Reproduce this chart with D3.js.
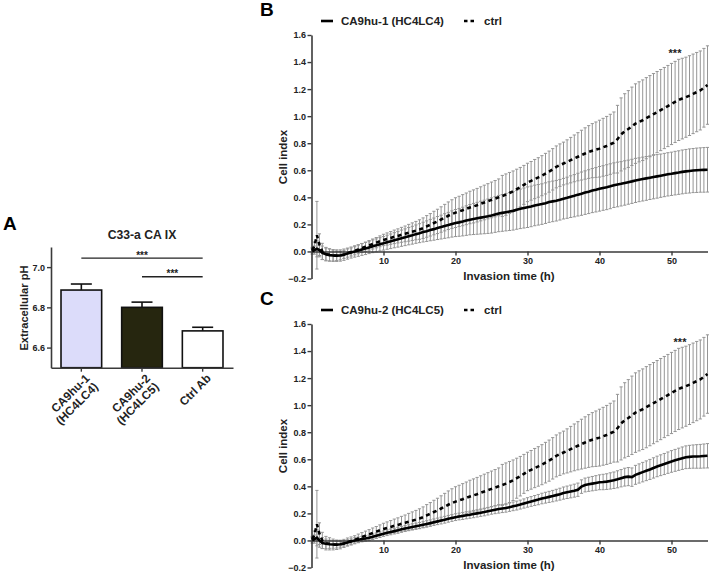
<!DOCTYPE html>
<html><head><meta charset="utf-8">
<script src="https://cdn.jsdelivr.net/npm/d3@7"></script>
<style>
html,body{margin:0;padding:0;background:#fff;}
svg{display:block;font-family:"Liberation Sans",Arial,sans-serif;font-weight:bold;}
</style></head>
<body><svg id="chart" width="709" height="576"></svg>
<script>
// ---------- Panel A data ----------
const barCategories = ["CA9hu-1 (HC4LC4)", "CA9hu-2 (HC4LC5)", "Ctrl Ab"];
const barLabelLines = [["CA9hu-1", "(HC4LC4)"], ["CA9hu-2", "(HC4LC5)"], ["Ctrl Ab"]];
const barValues = [6.886, 6.800, 6.683];
const barErrors = [0.030, 0.026, 0.018];
const barTicks = [6.6, 6.8, 7.0];
const sigPairs = [[0, 2, 7.045], [1, 2, 6.952]];
const sigLabel = "***";

// ---------- Panels B / C data ----------
const timeH = [0.1, 0.4, 0.75, 1.1, 1.5,
 2, 2.5, 3, 3.5, 4, 4.5, 5, 5.5, 6, 6.5, 7, 7.5, 8, 8.5, 9, 9.5, 10, 10.5, 11, 11.5, 12, 12.5, 13, 13.5, 14, 14.5,
 15, 15.5, 16, 16.5, 17, 17.5, 18, 18.5, 19, 19.5, 20, 20.5, 21, 21.5, 22, 22.5, 23, 23.5, 24, 24.5, 25, 25.5, 26, 26.5,
 27, 27.5, 28, 28.5, 29, 29.5, 30, 30.5, 31, 31.5, 32, 32.5, 33, 33.5, 34, 34.5, 35, 35.5, 36, 36.5, 37, 37.5, 38, 38.5,
 39, 39.5, 40, 40.5, 41, 41.5, 42, 42.5, 43, 43.5, 44, 44.5, 45, 45.5, 46, 46.5, 47, 47.5, 48, 48.5, 49, 49.5, 50, 50.5,
 51, 51.5, 52, 52.5, 53, 53.5, 54, 54.5, 55];

const ctrlMean = [0.01, 0.04, 0.12, 0.05, 0.0,
 -0.02, -0.025, -0.03, -0.032, -0.03, -0.022, -0.012, -0.004, 0.005, 0.015, 0.025, 0.035, 0.045, 0.055, 0.065, 0.075, 0.085, 0.092, 0.1, 0.108, 0.115, 0.123, 0.13, 0.138, 0.146, 0.154,
 0.162, 0.172, 0.185, 0.197, 0.21, 0.222, 0.236, 0.25, 0.264, 0.276, 0.287, 0.296, 0.305, 0.315, 0.325, 0.333, 0.342, 0.352, 0.362, 0.371, 0.381, 0.39, 0.40, 0.41,
 0.42, 0.432, 0.445, 0.46, 0.475, 0.492, 0.51, 0.522, 0.535, 0.547, 0.56, 0.575, 0.59, 0.607, 0.625, 0.638, 0.65, 0.662, 0.675, 0.688, 0.70, 0.712, 0.724, 0.735,
 0.745, 0.752, 0.76, 0.77, 0.78, 0.792, 0.805, 0.83, 0.865, 0.888, 0.905, 0.925, 0.945, 0.958, 0.97, 0.985, 1.0, 1.015, 1.03, 1.045, 1.06, 1.075, 1.09, 1.105,
 1.12, 1.13, 1.14, 1.152, 1.165, 1.178, 1.19, 1.21, 1.23];

const ctrlSD = [0.02, 0.03, 0.25, 0.08, 0.06,
 0.05, 0.045, 0.04, 0.035, 0.032, 0.03, 0.03, 0.03, 0.03, 0.032, 0.033, 0.034, 0.035, 0.037, 0.038, 0.04, 0.042, 0.045, 0.047, 0.05, 0.052, 0.055, 0.058, 0.062, 0.065, 0.068,
 0.072, 0.076, 0.08, 0.083, 0.087, 0.09, 0.094, 0.098, 0.102, 0.106, 0.11, 0.112, 0.115, 0.117, 0.12, 0.122, 0.124, 0.126, 0.128, 0.13, 0.132, 0.134, 0.136, 0.152,
 0.153, 0.152, 0.15, 0.148, 0.146, 0.144, 0.142, 0.143, 0.145, 0.146, 0.148, 0.15, 0.152, 0.153, 0.155, 0.157, 0.158, 0.163, 0.168, 0.173, 0.178, 0.184, 0.19, 0.195,
 0.2, 0.205, 0.21, 0.214, 0.218, 0.222, 0.226, 0.25, 0.27, 0.278, 0.284, 0.29, 0.294, 0.296, 0.298, 0.3, 0.3, 0.3, 0.3, 0.3, 0.3, 0.3, 0.3, 0.3,
 0.3, 0.298, 0.296, 0.295, 0.294, 0.293, 0.292, 0.291, 0.29];

const hu1Mean = [0.0, 0.01, 0.02, 0.01, -0.01,
 -0.02, -0.027, -0.03, -0.031, -0.03, -0.024, -0.016, -0.008, 0.0, 0.007, 0.015, 0.022, 0.03, 0.038, 0.045, 0.053, 0.06, 0.068, 0.075, 0.083, 0.09, 0.098, 0.105, 0.113, 0.12, 0.128,
 0.135, 0.143, 0.15, 0.158, 0.165, 0.173, 0.18, 0.188, 0.195, 0.203, 0.21, 0.215, 0.221, 0.228, 0.235, 0.24, 0.245, 0.25, 0.255, 0.26, 0.266, 0.273, 0.28, 0.285,
 0.29, 0.295, 0.30, 0.308, 0.315, 0.321, 0.327, 0.333, 0.34, 0.345, 0.35, 0.357, 0.365, 0.37, 0.375, 0.382, 0.39, 0.397, 0.405, 0.412, 0.42, 0.427, 0.435, 0.442,
 0.45, 0.456, 0.463, 0.469, 0.475, 0.482, 0.49, 0.495, 0.50, 0.506, 0.512, 0.518, 0.525, 0.53, 0.535, 0.54, 0.545, 0.55, 0.555, 0.56, 0.565, 0.57, 0.574, 0.579,
 0.583, 0.588, 0.592, 0.595, 0.598, 0.6, 0.602, 0.603, 0.604];

const hu1SD = [0.02, 0.03, 0.06, 0.05, 0.05,
 0.045, 0.045, 0.044, 0.043, 0.042, 0.042, 0.041, 0.041, 0.042, 0.043, 0.044, 0.045, 0.046, 0.047, 0.048, 0.049, 0.05, 0.052, 0.054, 0.056, 0.058, 0.06, 0.062, 0.064, 0.066, 0.068,
 0.07, 0.073, 0.076, 0.079, 0.082, 0.085, 0.088, 0.091, 0.094, 0.097, 0.1, 0.103, 0.106, 0.109, 0.112, 0.115, 0.118, 0.121, 0.124, 0.127, 0.13, 0.132, 0.134, 0.136,
 0.138, 0.14, 0.142, 0.144, 0.146, 0.148, 0.15, 0.15, 0.15, 0.15, 0.15, 0.15, 0.15, 0.15, 0.15, 0.15, 0.15, 0.152, 0.154, 0.156, 0.158, 0.16, 0.161, 0.162,
 0.163, 0.164, 0.165, 0.165, 0.166, 0.166, 0.165, 0.165, 0.164, 0.164, 0.163, 0.163, 0.163, 0.162, 0.162, 0.162, 0.161, 0.161, 0.161, 0.16, 0.16, 0.16, 0.16, 0.161,
 0.161, 0.162, 0.162, 0.163, 0.163, 0.164, 0.164, 0.165, 0.165];

const hu2Mean = [0.0, 0.01, 0.02, 0.0, -0.02,
 -0.025, -0.028, -0.03, -0.031, -0.028, -0.022, -0.015, -0.008, 0.0, 0.005, 0.01, 0.015, 0.02, 0.027, 0.035, 0.042, 0.05, 0.057, 0.063, 0.069, 0.075, 0.082, 0.088, 0.094, 0.1, 0.105,
 0.11, 0.116, 0.122, 0.128, 0.135, 0.141, 0.147, 0.153, 0.16, 0.166, 0.172, 0.177, 0.181, 0.186, 0.19, 0.195, 0.2, 0.205, 0.21, 0.216, 0.222, 0.227, 0.232, 0.236,
 0.24, 0.246, 0.252, 0.258, 0.265, 0.273, 0.281, 0.288, 0.295, 0.302, 0.31, 0.316, 0.322, 0.328, 0.335, 0.342, 0.35, 0.356, 0.362, 0.368, 0.375, 0.398, 0.41, 0.415,
 0.42, 0.425, 0.43, 0.432, 0.435, 0.44, 0.445, 0.452, 0.46, 0.468, 0.472, 0.468, 0.485, 0.495, 0.505, 0.515, 0.525, 0.536, 0.547, 0.556, 0.565, 0.575, 0.584, 0.592,
 0.6, 0.608, 0.615, 0.618, 0.62, 0.621, 0.622, 0.624, 0.626];

const hu2SD = [0.02, 0.03, 0.06, 0.05, 0.04,
 0.035, 0.03, 0.028, 0.025, 0.022, 0.02, 0.02, 0.02, 0.02, 0.02, 0.02, 0.02, 0.02, 0.02, 0.02, 0.02, 0.02, 0.021, 0.021, 0.021, 0.022, 0.022, 0.022, 0.022, 0.023, 0.023,
 0.023, 0.023, 0.024, 0.024, 0.024, 0.024, 0.025, 0.025, 0.025, 0.025, 0.025, 0.025, 0.026, 0.026, 0.026, 0.027, 0.027, 0.027, 0.028, 0.028, 0.028, 0.029, 0.03, 0.03,
 0.031, 0.031, 0.032, 0.033, 0.033, 0.034, 0.035, 0.036, 0.037, 0.038, 0.039, 0.04, 0.041, 0.042, 0.043, 0.044, 0.045, 0.046, 0.047, 0.048, 0.049, 0.05, 0.051, 0.052,
 0.053, 0.054, 0.055, 0.057, 0.058, 0.06, 0.061, 0.063, 0.064, 0.066, 0.067, 0.068, 0.07, 0.071, 0.072, 0.073, 0.074, 0.075, 0.076, 0.077, 0.078, 0.079, 0.08, 0.081,
 0.082, 0.083, 0.084, 0.085, 0.086, 0.087, 0.088, 0.089, 0.09];

const yTicksLine = [-0.2, 0.0, 0.2, 0.4, 0.6, 0.8, 1.0, 1.2, 1.4, 1.6];
const xTicksLine = [10, 20, 30, 40, 50];

// ---------- drawing ----------
const svg = d3.select("#chart");
const AX = "#3a3a3a";
const TXT = "#222";
const ERR = "#959595";

function styleAxis(g) {
  g.selectAll("path.domain").attr("stroke", AX).attr("stroke-width", 1.6);
  g.selectAll(".tick line").attr("stroke", AX).attr("stroke-width", 1.4);
  g.selectAll(".tick text").attr("fill", TXT).attr("font-size", 9)
    .attr("font-family", "'Liberation Sans', Arial, sans-serif").attr("font-weight", "bold");
}

// ===== Panel A =====
(function () {
  const g = svg.append("g");
  const y = d3.scaleLinear().domain([6.5, 7.1]).range([367.7, 247]);
  const x = d3.scaleBand().domain(barCategories).range([51, 233]).paddingInner(0.33).paddingOuter(0.165);
  const fills = ["#dcdcfa", "#26260f", "#ffffff"];

  g.append("text").attr("x", 3).attr("y", 229.5).attr("font-size", 19).attr("fill", "#000").text("A");
  g.append("text").attr("x", 142).attr("y", 239).attr("text-anchor", "middle").attr("font-size", 12.2)
    .attr("fill", TXT).text("C33-a CA IX");

  // error bars (upper only)
  barCategories.forEach((c, i) => {
    const cx = x(c) + x.bandwidth() / 2;
    g.append("line").attr("x1", cx).attr("x2", cx).attr("y1", y(barValues[i])).attr("y2", y(barValues[i] + barErrors[i]))
      .attr("stroke", "#111").attr("stroke-width", 1.6);
    g.append("line").attr("x1", cx - 10.5).attr("x2", cx + 10.5)
      .attr("y1", y(barValues[i] + barErrors[i])).attr("y2", y(barValues[i] + barErrors[i]))
      .attr("stroke", "#111").attr("stroke-width", 1.6);
  });
  g.selectAll("rect.bar").data(barCategories).join("rect").attr("class", "bar")
    .attr("x", d => x(d)).attr("width", x.bandwidth())
    .attr("y", (d, i) => y(barValues[i])).attr("height", (d, i) => y(6.5) - y(barValues[i]))
    .attr("fill", (d, i) => fills[i]).attr("stroke", "#111").attr("stroke-width", 1.6);

  const ya = g.append("g").attr("transform", "translate(51,0)")
    .call(d3.axisLeft(y).tickValues(barTicks).tickFormat(d3.format(".1f")).tickSize(4).tickSizeOuter(0).tickPadding(2));
  styleAxis(ya);
  const xa = g.append("g").attr("transform", "translate(0,367.7)")
    .call(d3.axisBottom(x).tickSize(4).tickSizeOuter(0).tickFormat(""));
  styleAxis(xa);

  // rotated category labels
  barCategories.forEach((c, i) => {
    const cx = x(c) + x.bandwidth() / 2;
    const t = g.append("text").attr("transform", `translate(${cx + 9},${379}) rotate(-45)`)
      .attr("text-anchor", "end").attr("font-size", 11.8).attr("fill", TXT);
    barLabelLines[i].forEach((ln, k) => {
      t.append("tspan").attr("x", 0).attr("dy", k === 0 ? 0 : 12).text(ln);
    });
  });

  g.append("text").attr("transform", "translate(28,308) rotate(-90)").attr("text-anchor", "middle")
    .attr("font-size", 11.2).attr("fill", TXT).text("Extracellular pH");

  // significance
  sigPairs.forEach(s => {
    const x1 = x(barCategories[s[0]]) + x.bandwidth() / 2;
    const x2 = x(barCategories[s[1]]) + x.bandwidth() / 2;
    g.append("line").attr("x1", x1).attr("x2", x2).attr("y1", y(s[2])).attr("y2", y(s[2]))
      .attr("stroke", "#222").attr("stroke-width", 1.3);
    g.append("text").attr("x", (x1 + x2) / 2).attr("y", y(s[2]) + 0.5).attr("text-anchor", "middle")
      .attr("font-size", 10).attr("fill", TXT).text(sigLabel);
  });
})();

// ===== Panels B & C =====
function linePanel(dy, letter, seriesName, mean, sd, starX) {
  const g = svg.append("g").attr("transform", `translate(0,${dy})`);
  const x = d3.scaleLinear().domain([0, 55]).range([311.5, 707.5]);
  const y = d3.scaleLinear().domain([-0.2, 1.6]).range([278.5, 35]);

  g.append("text").attr("x", 260).attr("y", 15.5).attr("font-size", 19).attr("fill", "#000").text(letter);

  // legend
  g.append("line").attr("x1", 321).attr("x2", 333).attr("y1", 21).attr("y2", 21).attr("stroke", "#000").attr("stroke-width", 2.6);
  g.append("text").attr("x", 341).attr("y", 25).attr("font-size", 11.5).attr("fill", TXT).text(seriesName);
  g.append("line").attr("x1", 464).attr("x2", 474).attr("y1", 21).attr("y2", 21).attr("stroke", "#000").attr("stroke-width", 2.6)
    .attr("stroke-dasharray", "3.5,3");
  g.append("text").attr("x", 484).attr("y", 25).attr("font-size", 11.5).attr("fill", TXT).text("ctrl");

  const series = [
    { m: mean, s: sd },
    { m: ctrlMean, s: ctrlSD }
  ];
  // error bars
  series.forEach(sr => {
    const eg = g.append("g").attr("stroke", ERR).attr("stroke-width", 1).attr("fill", "none");
    timeH.forEach((t, i) => {
      const cx = x(t);
      const y1 = y(sr.m[i] + sr.s[i]), y2 = y(sr.m[i] - sr.s[i]);
      eg.append("line").attr("x1", cx).attr("x2", cx).attr("y1", y1).attr("y2", y2);
      eg.append("line").attr("x1", cx - 1.6).attr("x2", cx + 1.6).attr("y1", y1).attr("y2", y1);
      eg.append("line").attr("x1", cx - 1.6).attr("x2", cx + 1.6).attr("y1", y2).attr("y2", y2);
    });
  });

  const yAxis = g.append("g").attr("transform", "translate(311.5,0)")
    .call(d3.axisLeft(y).tickValues(yTicksLine).tickFormat(d3.format(".1f")).tickSize(4).tickSizeOuter(0).tickPadding(1.5));
  styleAxis(yAxis);
  const xAxis = g.append("g").attr("transform", `translate(0,${y(0)})`)
    .call(d3.axisBottom(x).tickValues(xTicksLine).tickFormat(d3.format("d")).tickSize(4).tickSizeOuter(0).tickPadding(2));
  styleAxis(xAxis);

  const line = d3.line().x((d, i) => x(timeH[i])).y(d => y(d));
  g.append("path").datum(ctrlMean).attr("d", line).attr("fill", "none").attr("stroke", "#000")
    .attr("stroke-width", 2.6).attr("stroke-dasharray", "4,3.5");
  g.append("path").datum(mean).attr("d", line).attr("fill", "none").attr("stroke", "#000")
    .attr("stroke-width", 2.6);

  g.append("text").attr("transform", "translate(287,157) rotate(-90)").attr("text-anchor", "middle")
    .attr("font-size", 11.5).attr("fill", TXT).text("Cell index");
  g.append("text").attr("x", 509).attr("y", 280).attr("text-anchor", "middle")
    .attr("font-size", 11.5).attr("fill", TXT).text("Invasion time (h)");
  g.append("text").attr("x", starX).attr("y", 57).attr("text-anchor", "middle")
    .attr("font-size", 11).attr("fill", TXT).text("***");
}

linePanel(0, "B", "CA9hu-1 (HC4LC4)", hu1Mean, hu1SD, 675);
linePanel(289, "C", "CA9hu-2 (HC4LC5)", hu2Mean, hu2SD, 680);
</script>
</body></html>
